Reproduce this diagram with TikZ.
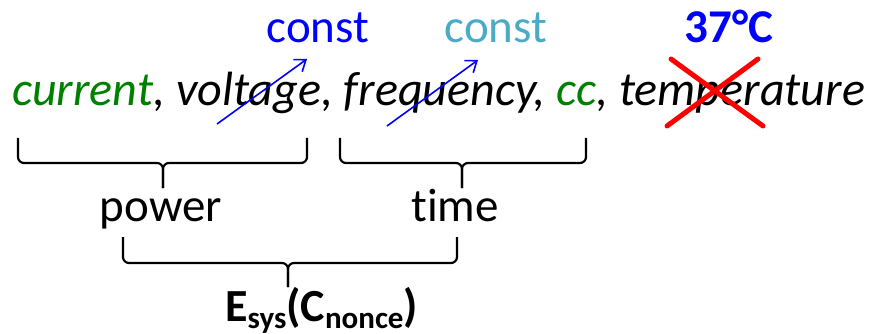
\documentclass[tikz,border=0pt]{standalone}
\usepackage{fontspec}
\setmainfont{Carlito}[Ligatures=NoCommon]
\usetikzlibrary{arrows.meta,positioning}
\definecolor{ParamClr}{rgb}{0,0.5,0}
\definecolor{FixClr}{rgb}{0,0,1}
\definecolor{LightFixClr}{rgb}{0.29,0.67,0.78}
\definecolor{CrossClr}{rgb}{1,0,0}
\newcommand\lowidx[1]{\raisebox{-0.17em}{\fontsize{31}{31}\selectfont #1}}

\begin{document}
\begin{tikzpicture}[x=1pt,y=-1pt,
  txt/.style={inner sep=0pt,anchor=base,font=\fontsize{47}{55}\selectfont},
  grp/.style={line width=2.2pt,rounded corners=6pt},
  fix/.style={FixClr,line width=1.6pt,-{Straight Barb[length=10pt,width=15pt]}},
  cross/.style={CrossClr,line width=5pt,line cap=round}]
\useasboundingbox (0,0) rectangle (870,334);

% parameter list
\node[txt,anchor=base west,font=\fontsize{48.1}{55}\selectfont] (params) at (12,106)
  {\itshape\textcolor{ParamClr}{current}, voltage, frequency, \textcolor{ParamClr}{cc}, temperature};

% fixed values
\node[txt,FixClr] (constV) at (318,43) {const};
\node[txt,LightFixClr] (constF) at (496,43) {const};
\node[txt,FixClr,font=\fontsize{47}{50}\selectfont\bfseries] (tempC) at (729,43) {37°C};

\coordinate (v0) at (217,124);
\coordinate (v1) at (307,59);
\coordinate (f0) at (387,126);
\coordinate (f1) at (478,60);
\draw[fix] (v0) -- (v1);
\draw[fix] (f0) -- (f1);

% temperature is struck out
\coordinate (x1) at (671,59);
\coordinate (x2) at (763,126);
\coordinate (x3) at (758,59);
\coordinate (x4) at (667,126);
\draw[cross] (x1) -- (x2);
\draw[cross] (x3) -- (x4);

% groups
\coordinate (b1l) at (18,138);
\coordinate (b1r) at (307,138);
\coordinate (b1m) at (163,163);
\coordinate (b1t) at (163,188);
\coordinate (b2l) at (340,138);
\coordinate (b2r) at (586,138);
\coordinate (b2m) at (462,163);
\coordinate (b2t) at (462,188);
\coordinate (b3l) at (123,237);
\coordinate (b3r) at (457,237);
\coordinate (b3m) at (288,263);
\coordinate (b3t) at (288,287);

\draw[grp] (b1l) |- (b1m) -- (b1t);
\draw[grp] (b1r) |- (b1m) -- (b1t);
\draw[grp] (b2l) |- (b2m) -- (b2t);
\draw[grp] (b2r) |- (b2m) -- (b2t);
\draw[grp] (b3l) |- (b3m) -- (b3t);
\draw[grp] (b3r) |- (b3m) -- (b3t);

\node[txt] (power) at (161,221) {power};
\node[txt] (time) at (455,221) {time};
\node[txt,anchor=base west,font=\fontsize{46}{55}\selectfont\bfseries] (energy) at (225,321)
  {E\lowidx{sys}(C\lowidx{nonce})};

\end{tikzpicture}
\end{document}
